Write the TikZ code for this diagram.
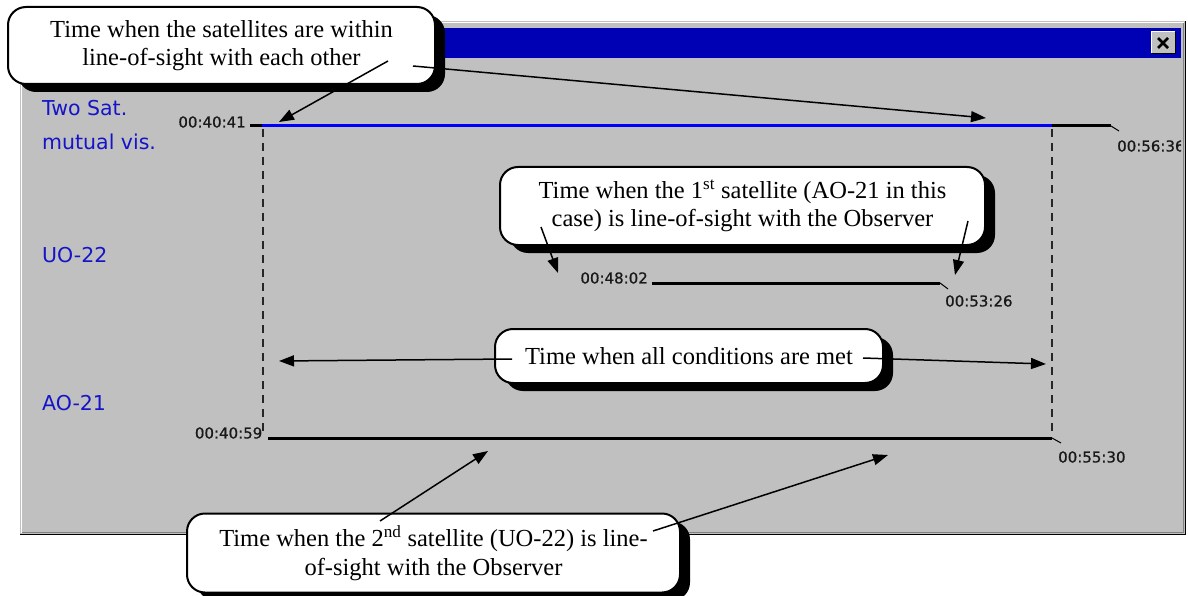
\documentclass[tikz,border=0pt]{standalone}
\usepackage{fontspec}
\setmainfont{Liberation Serif}
\newfontfamily\winfont{DejaVu Sans}
\newfontfamily\timefont[FakeBold=0.8]{DejaVu Sans}
\usetikzlibrary{arrows.meta,shadows}
\definecolor{winbg}{RGB}{192,192,192}
\definecolor{titleblue}{RGB}{0,0,180}
\definecolor{lineblue}{RGB}{0,0,250}
\definecolor{lblblue}{RGB}{20,20,200}
\definecolor{darkgr}{RGB}{128,128,128}
\begin{document}
\begin{tikzpicture}[x=1pt,y=-1pt,
  callout/.style={draw=black, line width=2pt, fill=white, rounded corners=18pt,
    align=center, inner sep=0pt, font=\fontsize{24.5}{28.5}\selectfont,
    general shadow={fill=black, shadow xshift=10pt, shadow yshift=-8pt}},
  arr/.style={line width=1.5pt, -{Triangle[length=15pt,width=11pt]}},
  dline/.style={line width=3pt},
  tick/.style={line width=1pt},
  vdash/.style={line width=1.5pt, black!85, dash pattern=on 8pt off 6pt},
  tlabel/.style={font=\timefont\fontsize{15}{15}\selectfont, text=black!90, inner sep=0pt},
  blabel/.style={font=\winfont\fontsize{20.5}{20.5}\selectfont, text=lblblue, inner sep=0pt, anchor=west}]
\useasboundingbox (0,0) rectangle (1188,596);
\fill[white] (0,0) rectangle (1188,596);
% window
\fill[winbg] (20,21) rectangle (1186,535);
\draw[white, line width=1.5pt] (21.5,533) -- (21.5,22.5) -- (1184,22.5);
\draw[black, line width=1.5pt] (20,534.25) -- (1185.25,534.25) -- (1185.25,21);
\draw[darkgr, line width=1.5pt] (22,532.5) -- (1183.5,532.5) -- (1183.5,23);
\fill[titleblue] (24,28) rectangle (1181,58);
% close button
\node (closebtn) [fill=winbg, minimum width=23pt, minimum height=21pt, inner sep=0pt] at (1163.5,42.5) {};
\draw[white, line width=1.2pt] (closebtn.south west) -- (closebtn.north west) -- (closebtn.north east);
\draw[black, line width=1.2pt] (closebtn.south west) -- (closebtn.south east) -- (closebtn.north east);
\coordinate (x1) at (1158,38); \coordinate (x2) at (1168,48);
\coordinate (x3) at (1168,38); \coordinate (x4) at (1158,48);
\draw[line width=2.6pt] (x1) -- (x2); \draw[line width=2.6pt] (x3) -- (x4);
% row labels
\node[blabel] (lt1) at (42,108) {Two Sat.};
\node[blabel] (lt2) at (42,142) {mutual vis.};
\node[blabel] (luo) at (42,255) {UO-22};
\node[blabel] (lao) at (42,403) {AO-21};
% dashed verticals
\coordinate (d1t) at (263,129); \coordinate (d1b) at (263,436);
\coordinate (d2t) at (1052,129); \coordinate (d2b) at (1052,436);
\draw[vdash] (d1t) -- (d1b);
\draw[vdash] (d2t) -- (d2b);
% two sat line
\coordinate (t0) at (250,126); \coordinate (t1) at (262,126);
\coordinate (t2) at (1052,126); \coordinate (t3) at (1111,126);
\coordinate (t4) at (1119,131);
\draw[dline] (t0) -- (t1);
\draw[dline, lineblue] (t1) -- (t2);
\draw[dline] (t2) -- (t3);
\draw[tick] (t3) -- (t4);
% UO-22 line
\coordinate (u1) at (652,283); \coordinate (u2) at (940,283); \coordinate (u3) at (948,289);
\draw[dline] (u1) -- (u2); \draw[tick] (u2) -- (u3);
% AO-21 line
\coordinate (a1) at (268,438); \coordinate (a2) at (1052,438); \coordinate (a3) at (1061,443);
\draw[dline] (a1) -- (a2); \draw[tick] (a2) -- (a3);
% time labels
\node[tlabel, anchor=east] (tm1) at (246,122) {00:40:41};
\begin{scope}
\clip (24,60) rectangle (1181,532);
\node[tlabel, anchor=west] (tm2) at (1117,146) {00:56:36};
\end{scope}
\node[tlabel, anchor=east] (tm3) at (648,278) {00:48:02};
\node[tlabel, anchor=west] (tm4) at (945,301) {00:53:26};
\node[tlabel, anchor=east] (tm5) at (262.5,433) {00:40:59};
\node[tlabel, anchor=west] (tm6) at (1058,457) {00:55:30};
% callouts
\node[callout, minimum width=427pt, minimum height=77pt] (c1) at (221.5,45.5)
  {Time when the satellites are within\\line-of-sight with each other};
\node[callout, minimum width=485pt, minimum height=78pt] (c2) at (742.5,206)
  {Time when the 1\textsuperscript{st} satellite (AO-21 in this\\case) is line-of-sight with the Observer};
\node[callout, minimum width=388pt, minimum height=54pt] (c3) at (689,356)
  {Time when all conditions are met};
\node[callout, minimum width=493pt, minimum height=79pt] (c4) at (433.5,553)
  {Time when the 2\textsuperscript{nd} satellite (UO-22) is line-\\of-sight with the Observer};
% connector ends
\coordinate (c1a) at (388,61);  \coordinate (p1a) at (279,122);
\coordinate (c1b) at (413,66);  \coordinate (p1b) at (986,118);
\coordinate (c2a) at (541,227); \coordinate (p2a) at (558,273);
\coordinate (c2b) at (968,221); \coordinate (p2b) at (955,275);
\coordinate (c3a) at (512,359); \coordinate (p3a) at (279,361);
\coordinate (c3b) at (863,358); \coordinate (p3b) at (1046,364);
\coordinate (c4a) at (380,521); \coordinate (p4a) at (488,451);
\coordinate (c4b) at (653,531); \coordinate (p4b) at (888,455);
\draw[arr] (c1a) -- (p1a);
\draw[arr] (c1b) -- (p1b);
\draw[arr] (c2a) -- (p2a);
\draw[arr] (c2b) -- (p2b);
\draw[arr] (c3a) -- (p3a);
\draw[arr] (c3b) -- (p3b);
\draw[arr] (c4a) -- (p4a);
\draw[arr] (c4b) -- (p4b);
\end{tikzpicture}
\end{document}
